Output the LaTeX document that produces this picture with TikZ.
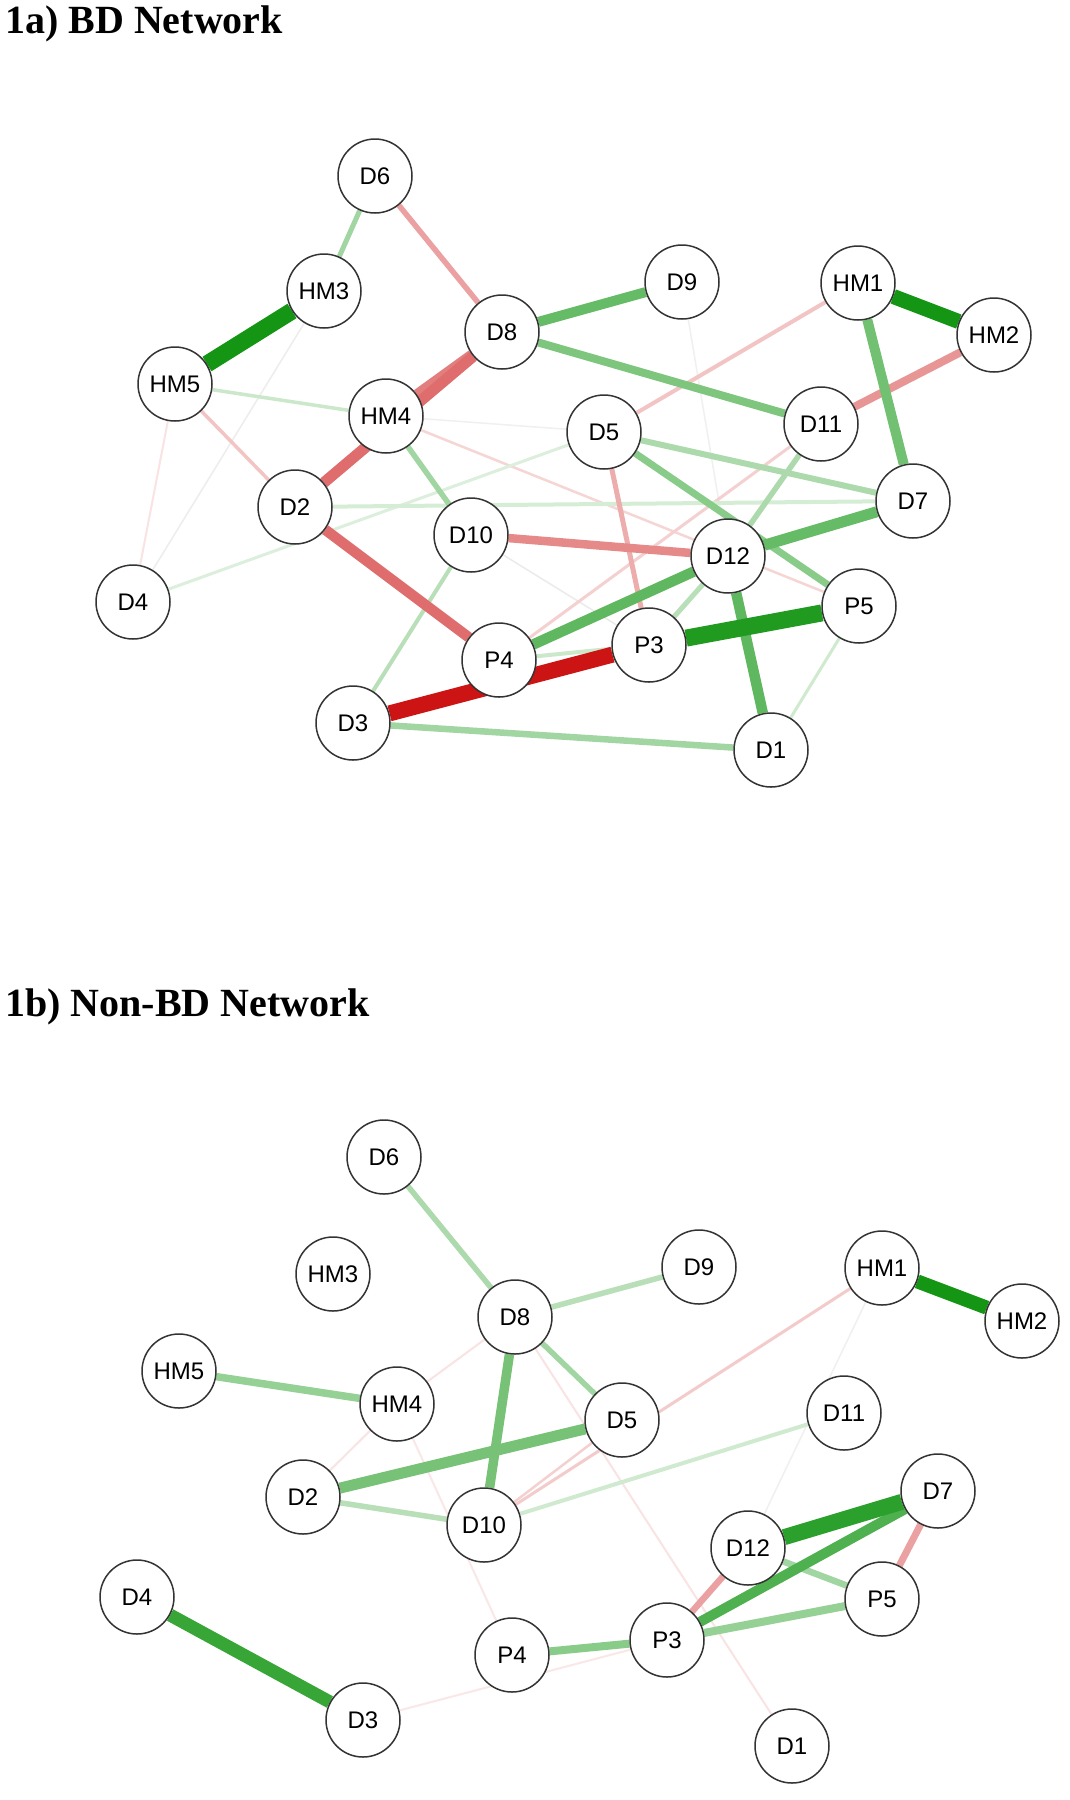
\documentclass[tikz,border=0pt]{standalone}
\usepackage{fontspec}
\setsansfont{Liberation Sans}
\newfontfamily\ttlfam{Liberation Serif}
\definecolor{gb}{RGB}{20,150,20}
\definecolor{rb}{RGB}{204,20,20}
\pgfdeclarelayer{bg}
\pgfsetlayers{bg,main}
\tikzset{
  nd/.style={circle,draw=black!80,line width=1.5pt,fill=white,minimum size=74pt,inner sep=0pt,font=\sffamily\fontsize{24}{24}\selectfont},
  lk/.style 2 args={draw=#1,line width=#2pt},
  ttl/.style={anchor=base west,inner sep=0pt,font=\ttlfam\bfseries\fontsize{40}{44}\selectfont}
}
\begin{document}
\begin{tikzpicture}[x=1pt,y=-1pt]
\useasboundingbox (0,0) rectangle (1069,1800);
\node[ttl] (t1) at (5,33) {1a) BD Network};
\node[ttl] (t2) at (5,1016) {1b) Non-BD Network};
% ---------- top network nodes
\node[nd] (aD6) at (375,176) {D6};
\node[nd] (aHM3) at (324,291) {HM3};
\node[nd] (aHM5) at (175,384) {HM5};
\node[nd] (aHM4) at (386,416) {HM4};
\node[nd] (aD8) at (502,332) {D8};
\node[nd] (aD2) at (295,507) {D2};
\node[nd] (aD10) at (471,535) {D10};
\node[nd] (aD4) at (133,602) {D4};
\node[nd] (aD9) at (682,282) {D9};
\node[nd] (aHM1) at (858,283) {HM1};
\node[nd] (aHM2) at (994,335) {HM2};
\node[nd] (aD11) at (821,424) {D11};
\node[nd] (aD5) at (604,432) {D5};
\node[nd] (aD7) at (913,501) {D7};
\node[nd] (aD12) at (728,556) {D12};
\node[nd] (aP5) at (859,606) {P5};
\node[nd] (aP3) at (649,645) {P3};
\node[nd] (aP4) at (499,660) {P4};
\node[nd] (aD3) at (353,723) {D3};
\node[nd] (aD1) at (771,750) {D1};
% ---------- bottom network nodes
\node[nd] (bD6) at (384,1157) {D6};
\node[nd] (bHM3) at (333,1274) {HM3};
\node[nd] (bHM5) at (179,1371) {HM5};
\node[nd] (bD8) at (515,1317) {D8};
\node[nd] (bHM4) at (397,1404) {HM4};
\node[nd] (bD2) at (303,1497) {D2};
\node[nd] (bD10) at (484,1525) {D10};
\node[nd] (bD4) at (137,1597) {D4};
\node[nd] (bD9) at (699,1267) {D9};
\node[nd] (bHM1) at (882,1268) {HM1};
\node[nd] (bHM2) at (1022,1321) {HM2};
\node[nd] (bD5) at (622,1420) {D5};
\node[nd] (bD11) at (844,1413) {D11};
\node[nd] (bD7) at (938,1491) {D7};
\node[nd] (bD12) at (748,1548) {D12};
\node[nd] (bP5) at (882,1599) {P5};
\node[nd] (bP3) at (667,1640) {P3};
\node[nd] (bD1) at (792,1746) {D1};
\node[nd] (bP4) at (512,1655) {P4};
\node[nd] (bD3) at (363,1720) {D3};
\begin{pgfonlayer}{bg}
\fill[white] (0,0) rectangle (1069,1800);
% ---------- top edges
\draw[lk={black!7}{1.5}] (aHM3) -- (aD4);
\draw[lk={black!6}{1.5}] (aHM4) -- (aD5);
\draw[lk={black!8}{1.5}] (aD10) -- (aP3);
\draw[lk={black!6}{1.5}] (aD9) -- (aD12);
\draw[lk={rb!12}{2}] (aHM5) -- (aD4);
\draw[lk={rb!18}{2.5}] (aHM4) -- (aP5);
\draw[lk={rb!20}{3}] (aD11) -- (aP4);
\draw[lk={gb!15}{3}] (aD4) -- (aD5);
\draw[lk={gb!18}{4}] (aD2) -- (aD7);
\draw[lk={gb!22}{3.5}] (aHM5) -- (aHM4);
\draw[lk={rb!25}{3.5}] (aHM5) -- (aD2);
\draw[lk={rb!25}{4}] (aD5) -- (aHM1);
\draw[lk={rb!35}{5}] (aD5) -- (aP3);
\draw[lk={gb!30}{4}] (aD10) -- (aD3);
\draw[lk={gb!20}{3}] (aP5) -- (aD1);
\draw[lk={gb!22}{4}] (aP4) -- (aP3);
\draw[lk={gb!40}{5}] (aD6) -- (aHM3);
\draw[lk={rb!40}{5.5}] (aD6) -- (aD8);
\draw[lk={gb!40}{5.5}] (aHM4) -- (aD10);
\draw[lk={gb!35}{6}] (aD5) -- (aD7);
\draw[lk={gb!50}{7}] (aD5) -- (aP5);
\draw[lk={gb!35}{5.5}] (aD11) -- (aD12);
\draw[lk={gb!30}{5}] (aD12) -- (aP3);
\draw[lk={gb!40}{6.5}] (aD3) -- (aD1);
\draw[lk={rb!45}{8}] (aHM2) -- (aD11);
\draw[lk={rb!50}{8.5}] (aD10) -- (aD12);
\draw[lk={gb!55}{8}] (aD8) -- (aD11);
\draw[lk={gb!65}{10}] (aD8) -- (aD9);
\draw[lk={gb!60}{10}] (aHM1) -- (aD7);
\draw[lk={gb!65}{11}] (aD12) -- (aD7);
\draw[lk={gb!68}{10.5}] (aD12) -- (aP4);
\draw[lk={gb!68}{10.5}] (aD12) -- (aD1);
\draw[lk={rb!55}{9}] (aD8) -- (aHM4);
\draw[lk={rb!62}{11}] (aD8) -- (aD2);
\draw[lk={rb!62}{10.5}] (aD2) -- (aP4);
\draw[lk={gb!100}{17}] (aHM3) -- (aHM5);
\draw[lk={gb!100}{15}] (aHM1) -- (aHM2);
\draw[lk={gb!95}{17}] (aP3) -- (aP5);
\draw[lk={rb!100}{16}] (aD3) -- (aP3);
% ---------- bottom edges
\draw[lk={black!6}{1.5}] (bHM1) -- (bD12);
\draw[lk={rb!10}{2}] (bD3) -- (bP3);
\draw[lk={rb!12}{2}] (bD8) -- (bHM4);
\draw[lk={rb!12}{2}] (bD8) -- (bD1);
\draw[lk={rb!12}{2}] (bHM4) -- (bD2);
\draw[lk={rb!10}{2}] (bHM4) -- (bP4);
\draw[lk={rb!20}{2.5}] (bD10) -- (bD5);
\draw[lk={rb!22}{3}] (bD10) -- (bHM1);
\draw[lk={gb!20}{4}] (bD10) -- (bD11);
\draw[lk={gb!35}{5.5}] (bD6) -- (bD8);
\draw[lk={gb!30}{5.5}] (bD8) -- (bD9);
\draw[lk={gb!40}{5.5}] (bD8) -- (bD5);
\draw[lk={gb!30}{5.5}] (bD2) -- (bD10);
\draw[lk={gb!45}{7.5}] (bHM5) -- (bHM4);
\draw[lk={gb!58}{9.5}] (bD8) -- (bD10);
\draw[lk={gb!58}{11}] (bD2) -- (bD5);
\draw[lk={gb!40}{6.5}] (bD12) -- (bP5);
\draw[lk={gb!45}{8}] (bP3) -- (bP5);
\draw[lk={gb!50}{8}] (bP4) -- (bP3);
\draw[lk={rb!40}{6.5}] (bD12) -- (bP3);
\draw[lk={rb!40}{7}] (bD7) -- (bP5);
\draw[lk={gb!75}{10}] (bP3) -- (bD7);
\draw[lk={gb!85}{13}] (bD4) -- (bD3);
\draw[lk={gb!100}{14}] (bHM1) -- (bHM2);
\draw[lk={gb!100!black!90}{16}] (bD12) -- (bD7);
\end{pgfonlayer}
\end{tikzpicture}
\end{document}
